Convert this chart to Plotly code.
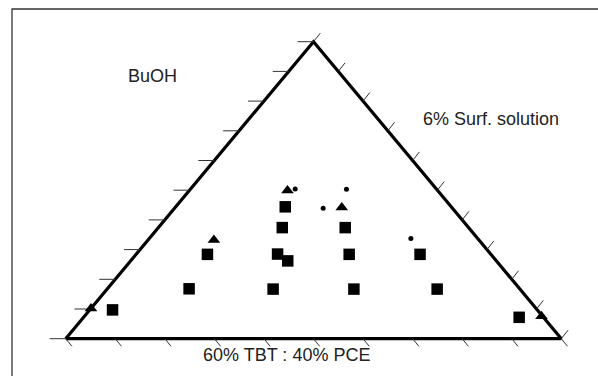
import plotly.graph_objects as go

# Compositions in percent: BuOH (apex) and 6% surfactant solution (right corner);
# the remainder is the 60% TBT : 40% PCE oil phase (left corner).
sq_buoh = [9.7, 16.8, 28.4, 44.4, 37.4, 28.5, 26.2, 16.7, 37.4, 28.4, 16.7, 28.4, 16.7, 7.2]
sq_surf = [4.6, 16.5, 14.4, 22.1, 25.0, 28.5, 31.7, 33.5, 37.7, 43.0, 49.8, 57.3, 66.6, 87.9]

tri_buoh = [10.2, 33.2, 49.9, 44.2, 7.6]
tri_surf = [0.0, 13.3, 19.8, 33.6, 92.2]

dot_buoh = [50.4, 50.3, 43.9, 33.7]
dot_surf = [21.1, 31.5, 30.0, 52.8]

tick_values = list(range(0, 101, 10))

W, H = 598, 376
# pixel scale of one unit along the base and along the height
SX, SY = 495.6, 297.0
X0 = -65.7 / SX
Y1 = 1 + 41.7 / SY


def to_xy(buoh, surf):
    xs = [(s + b / 2) / 100 for b, s in zip(buoh, surf)]
    ys = [b / 100 for b in buoh]
    return xs, ys


fig = go.Figure()

# triangle outline: oil corner -> surfactant corner -> BuOH apex -> oil corner
ex, ey = to_xy([0, 0, 100, 0], [0, 100, 0, 0])
fig.add_trace(go.Scatter(x=ex, y=ey, mode="lines",
                         line=dict(color="black", width=3.2), hoverinfo="skip"))

# tick marks on the three edges
tx, ty = [], []
for t in tick_values:
    # left edge (BuOH scale): horizontal ticks pointing left
    px, py = to_xy([t], [0])
    tx += [px[0], px[0] - 16 / SX, None]
    ty += [py[0], py[0], None]
    # base: ticks parallel to the right edge
    px, py = to_xy([0], [t])
    tx += [px[0], px[0] + 6.2 / SX, None]
    ty += [py[0], py[0] - 7.6 / SY, None]
    # right edge: ticks parallel to the left edge
    px, py = to_xy([t], [100 - t])
    tx += [px[0], px[0] + 6.8 / SX, None]
    ty += [py[0], py[0] + 8.6 / SY, None]
fig.add_trace(go.Scatter(x=tx, y=ty, mode="lines",
                         line=dict(color="#333333", width=1), hoverinfo="skip"))

sx_, sy_ = to_xy(sq_buoh, sq_surf)
fig.add_trace(go.Scatter(x=sx_, y=sy_, mode="markers", cliponaxis=False,
                         marker=dict(symbol="square", size=11.5, color="black")))
tx_, ty_ = to_xy(tri_buoh, tri_surf)
fig.add_trace(go.Scatter(x=tx_, y=ty_, mode="markers", cliponaxis=False,
                         marker=dict(symbol="triangle-up", size=11, color="black")))
dx_, dy_ = to_xy(dot_buoh, dot_surf)
fig.add_trace(go.Scatter(x=dx_, y=dy_, mode="markers", cliponaxis=False,
                         marker=dict(symbol="circle", size=5, color="black")))

font = dict(family="Liberation Sans, Arial, sans-serif", size=18, color="#222222")
fig.update_layout(
    width=W, height=H,
    margin=dict(l=0, r=0, t=0, b=0),
    paper_bgcolor="white", plot_bgcolor="white",
    showlegend=False,
    xaxis=dict(range=[X0, X0 + W / SX], visible=False, fixedrange=True),
    yaxis=dict(range=[Y1 - H / SY, Y1], visible=False, fixedrange=True),
    shapes=[dict(type="rect", xref="paper", yref="paper",
                 x0=12 / W, y0=-0.05, x1=1.05, y1=1 - 9 / H,
                 line=dict(color="#333333", width=1.3))],
    annotations=[
        dict(text="BuOH", x=152 / W, y=1 - 76 / H, xref="paper", yref="paper",
             showarrow=False, font=font, xanchor="center", yanchor="middle"),
        dict(text="6% Surf. solution", x=490.5 / W, y=1 - 119 / H, xref="paper", yref="paper",
             showarrow=False, font=font, xanchor="center", yanchor="middle"),
        dict(text="60% TBT : 40% PCE", x=286 / W, y=1 - 354.5 / H, xref="paper", yref="paper",
             showarrow=False, font=font, xanchor="center", yanchor="middle"),
    ],
)

fig.write_html("out.html")
